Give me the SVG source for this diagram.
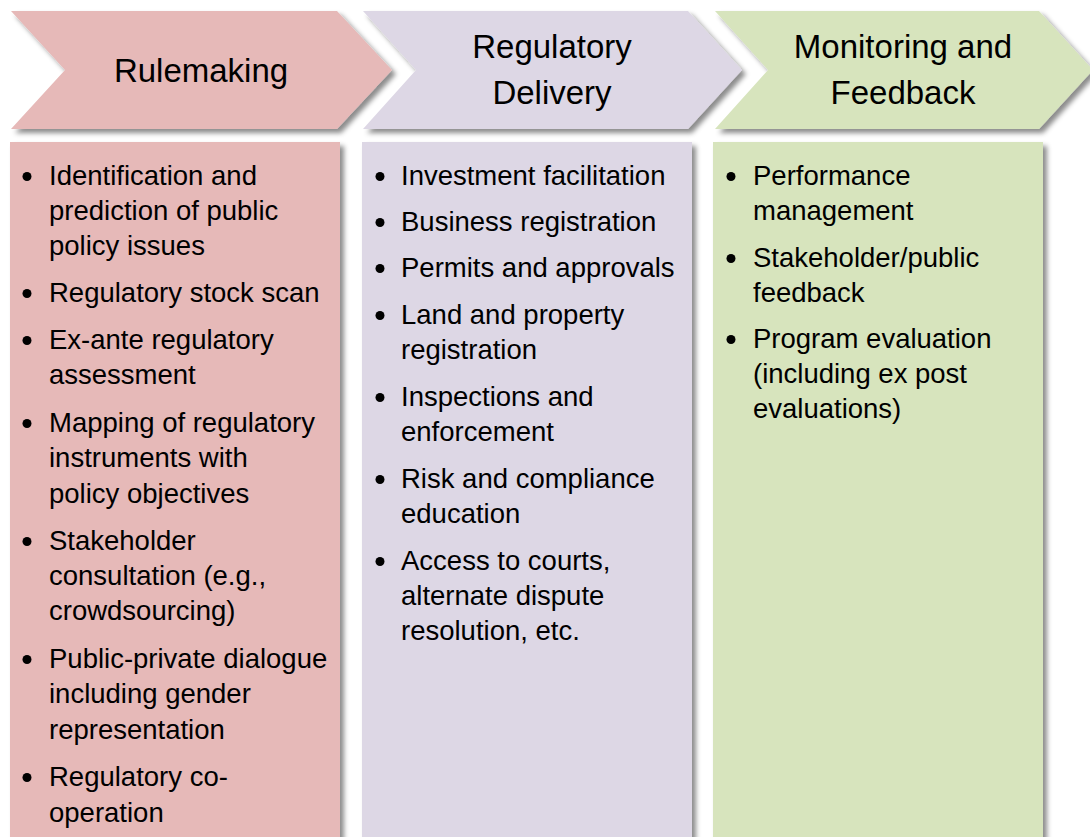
<svg xmlns="http://www.w3.org/2000/svg" width="1090" height="837" viewBox="0 0 1090 837">
<defs>
<filter id="sh" x="-5%" y="-5%" width="115%" height="115%">
<feDropShadow dx="4" dy="4" stdDeviation="2.5" flood-color="#000" flood-opacity="0.45"/>
</filter>
</defs>
<style>
.hd{font-family:"Liberation Sans",Arial,sans-serif;font-size:33px;fill:#000;text-anchor:middle}
.tx{font-family:"Liberation Sans",Arial,sans-serif;font-size:27.5px;fill:#000}
.red{fill:#E6B9B8}
.pur{fill:#DDD7E5}
.grn{fill:#D7E4BD}
.shape{filter:url(#sh)}
.bul{fill:#000}
</style>
<rect width="1090" height="837" fill="#fff"/>

<g id="col-rulemaking">
<rect class="red shape" x="10" y="142" width="330" height="710"/>
<g class="bul">
<circle cx="27" cy="176.5" r="4.5"/>
<circle cx="27" cy="293.5" r="4.5"/>
<circle cx="27" cy="340.5" r="4.5"/>
<circle cx="27" cy="423.5" r="4.5"/>
<circle cx="27" cy="541.5" r="4.5"/>
<circle cx="27" cy="659.5" r="4.5"/>
<circle cx="27" cy="777.5" r="4.5"/>
</g>
<text class="tx" x="49" y="185">Identification and</text>
<text class="tx" x="49" y="220">prediction of public</text>
<text class="tx" x="49" y="255">policy issues</text>
<text class="tx" x="49" y="302">Regulatory stock scan</text>
<text class="tx" x="49" y="349">Ex-ante regulatory</text>
<text class="tx" x="49" y="384">assessment</text>
<text class="tx" x="49" y="432">Mapping of regulatory</text>
<text class="tx" x="49" y="467">instruments with</text>
<text class="tx" x="49" y="503">policy objectives</text>
<text class="tx" x="49" y="550">Stakeholder</text>
<text class="tx" x="49" y="585">consultation (e.g.,</text>
<text class="tx" x="49" y="620">crowdsourcing)</text>
<text class="tx" x="49" y="668">Public-private dialogue</text>
<text class="tx" x="49" y="703">including gender</text>
<text class="tx" x="49" y="739">representation</text>
<text class="tx" x="49" y="786">Regulatory co-</text>
<text class="tx" x="49" y="822">operation</text>
</g>

<g id="col-delivery">
<rect class="pur shape" x="362" y="142" width="330" height="710"/>
<g class="bul">
<circle cx="380" cy="176.5" r="4.5"/>
<circle cx="380" cy="222.5" r="4.5"/>
<circle cx="380" cy="268.5" r="4.5"/>
<circle cx="380" cy="315.5" r="4.5"/>
<circle cx="380" cy="397.5" r="4.5"/>
<circle cx="380" cy="479.5" r="4.5"/>
<circle cx="380" cy="561.5" r="4.5"/>
</g>
<text class="tx" x="401" y="185">Investment facilitation</text>
<text class="tx" x="401" y="231">Business registration</text>
<text class="tx" x="401" y="277">Permits and approvals</text>
<text class="tx" x="401" y="324">Land and property</text>
<text class="tx" x="401" y="359">registration</text>
<text class="tx" x="401" y="406">Inspections and</text>
<text class="tx" x="401" y="441">enforcement</text>
<text class="tx" x="401" y="488">Risk and compliance</text>
<text class="tx" x="401" y="523">education</text>
<text class="tx" x="401" y="570">Access to courts,</text>
<text class="tx" x="401" y="605">alternate dispute</text>
<text class="tx" x="401" y="640">resolution, etc.</text>
</g>

<g id="col-monitoring">
<rect class="grn shape" x="713" y="142" width="330" height="710"/>
<g class="bul">
<circle cx="731" cy="176.5" r="4.5"/>
<circle cx="731" cy="258.5" r="4.5"/>
<circle cx="731" cy="339.5" r="4.5"/>
</g>
<text class="tx" x="753" y="185">Performance</text>
<text class="tx" x="753" y="220">management</text>
<text class="tx" x="753" y="267">Stakeholder/public</text>
<text class="tx" x="753" y="302">feedback</text>
<text class="tx" x="753" y="348">Program evaluation</text>
<text class="tx" x="753" y="383">(including ex post</text>
<text class="tx" x="753" y="418">evaluations)</text>
</g>

<g id="hdr-monitoring">
<path class="grn shape" d="M715,11 L1039,11 L1093,70 L1039,129 L715,129 L768,70 Z"/>
<text class="hd" x="903" y="58">Monitoring and</text>
<text class="hd" x="903" y="104">Feedback</text>
</g>
<g id="hdr-delivery">
<path class="pur shape" d="M363,11 L688,11 L742,70 L688,129 L363,129 L416,70 Z"/>
<text class="hd" x="552" y="58">Regulatory</text>
<text class="hd" x="552" y="104">Delivery</text>
</g>
<g id="hdr-rulemaking">
<path class="red shape" d="M11,11 L337,11 L392,70 L337,129 L11,129 L65,70 Z"/>
<text class="hd" x="201" y="82">Rulemaking</text>
</g>
</svg>
